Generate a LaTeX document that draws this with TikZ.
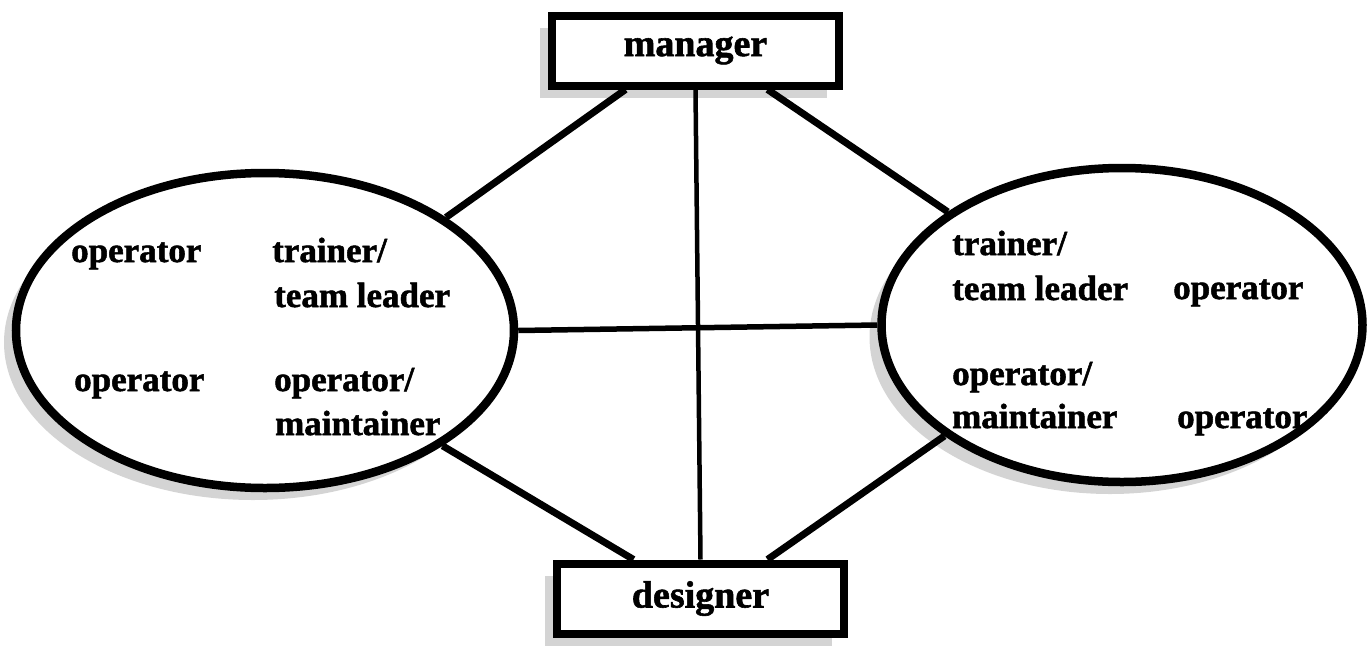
\documentclass[tikz,border=0pt]{standalone}
\usepackage{fontspec}
\setmainfont{Liberation Serif}[BoldFeatures={FakeBold=1.5}]
\usetikzlibrary{shapes.geometric,shadows,calc}
\tikzset{
  shade/.style={drop shadow={shadow xshift=-12pt,shadow yshift=-12pt,fill=black!17,opacity=1}},
  rolebox/.style={draw,line width=8pt,fill=white,shade,minimum width=287pt,minimum height=70pt,inner sep=0pt,font=\fontsize{38}{44}\selectfont\bfseries},
  group/.style={ellipse,draw,line width=8.5pt,fill=white,shade,inner sep=0pt},
  lbl/.style={anchor=base west,inner sep=0pt,font=\fontsize{35}{42}\selectfont\bfseries},
  link/.style={line width=7pt},
  thin link/.style={line width=4.5pt},
  mid link/.style={line width=5.5pt}
}
\begin{document}
\begin{tikzpicture}[x=1pt,y=-1pt]
\useasboundingbox (0,0) rectangle (1369,646);
\node[rolebox] (manager) at (695.5,50.5) {manager};
\node[rolebox] (designer) at (700.5,598.5) {designer};
\node[group,minimum width=498pt,minimum height=315pt] (L) at (265,330.5) {};
\node[group,minimum width=481pt,minimum height=314pt] (R) at (1122,325) {};
% texts left
\node[lbl] (opL1) at (71,262) {operator};
\node[lbl] (trL) at (272,262) {trainer/};
\node[lbl] (tlL) at (274,307) {team leader};
\node[lbl] (opL2) at (74,391) {operator};
\node[lbl] (omL) at (274,391) {operator/};
\node[lbl] (mtL) at (275,435) {maintainer};
% texts right
\node[lbl] (trR) at (952,255) {trainer/};
\node[lbl] (tlR) at (952,300) {team leader};
\node[lbl] (opR1) at (1173,299) {operator};
\node[lbl] (omR) at (952,385) {operator/};
\node[lbl] (mtR) at (952,428) {maintainer};
\node[lbl] (opR2) at (1177,428) {operator};
% connectors
\draw[link] ($(manager.south)+(-70,0)$) -- (L.32.8);
\draw[link] ($(manager.south)+(72,0)$) -- (R.147.8);
\draw[thin link] (manager.south) -- (designer.north);
\draw[mid link] (L.east) -- (R.west);
\draw[link] (L.-33.9) -- ($(designer.north)+(-67,0)$);
\draw[link] (R.212) -- ($(designer.north)+(67,0)$);
\end{tikzpicture}
\end{document}
